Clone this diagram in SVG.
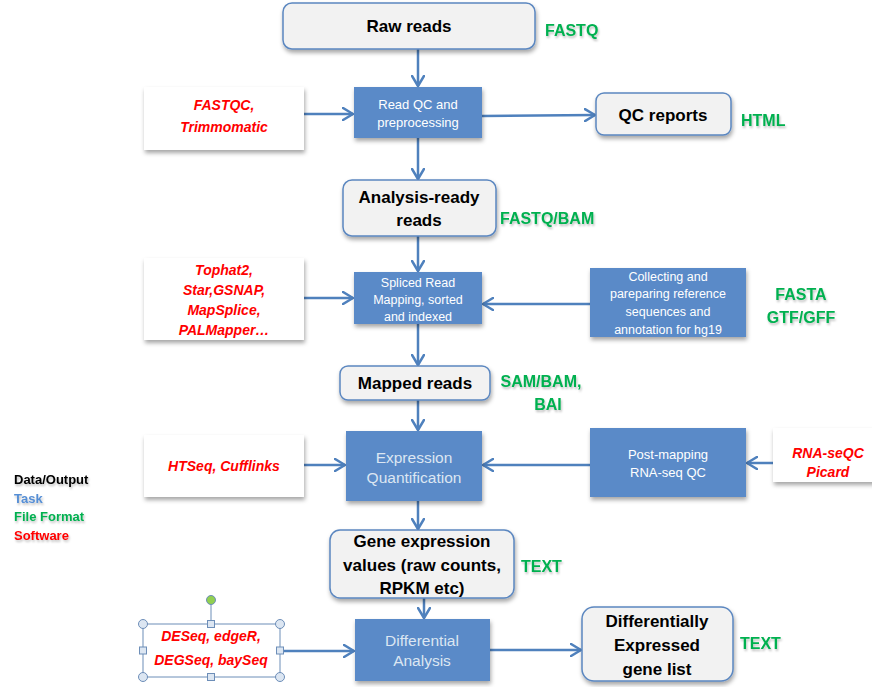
<svg xmlns="http://www.w3.org/2000/svg" width="872" height="687" viewBox="0 0 872 687">
<defs>
<filter id="sh" x="-10%" y="-10%" width="130%" height="140%"><feDropShadow dx="1" dy="3" stdDeviation="2" flood-color="#000" flood-opacity="0.35"/></filter>
<filter id="tsh" x="-10%" y="-20%" width="130%" height="160%"><feDropShadow dx="1" dy="2" stdDeviation="1" flood-color="#000" flood-opacity="0.25"/></filter>
<marker id="ar" viewBox="0 0 12 14" refX="11" refY="7" markerWidth="12" markerHeight="14" markerUnits="userSpaceOnUse" orient="auto">
<path d="M1,1 L11,7 L1,13" fill="none" stroke="#4F81BD" stroke-width="2.5" stroke-linejoin="round" stroke-linecap="round"/>
</marker>
</defs>
<style>
.data{fill:#F2F2F2;stroke:#5B87C0;stroke-width:1.5}
.task{fill:#5A8AC8}
.tool{fill:#FFFFFF}
.dt{font-family:"Liberation Sans",Arial,sans-serif;font-weight:bold;font-size:17px;fill:#000;text-anchor:middle}
.tt{font-family:"Liberation Sans",Arial,sans-serif;font-size:13px;fill:#FFFFFF;text-anchor:middle}
.tl{font-family:"Liberation Sans",Arial,sans-serif;font-size:15.5px;fill:#DCE6F2;text-anchor:middle}
.sw{font-family:"Liberation Sans",Arial,sans-serif;font-weight:bold;font-style:italic;font-size:14px;fill:#FF0000;text-anchor:middle}
.ff{font-family:"Liberation Sans",Arial,sans-serif;font-weight:bold;font-size:16px;fill:#00B050}
.lg{font-family:"Liberation Sans",Arial,sans-serif;font-weight:bold;font-size:13px}
.cn{stroke:#4F81BD;stroke-width:2.5;fill:none;marker-end:url(#ar)}
.h{fill:#DCE6F2;stroke:#6D8EB8;stroke-width:1}
</style>

<g id="connectors">
<line class="cn" x1="418" y1="49" x2="418" y2="86"/>
<line class="cn" x1="304" y1="114" x2="353" y2="114"/>
<line class="cn" x1="482" y1="116" x2="595" y2="115"/>
<line class="cn" x1="418" y1="138" x2="418" y2="179"/>
<line class="cn" x1="418" y1="236" x2="418" y2="271"/>
<line class="cn" x1="304" y1="298" x2="353" y2="298"/>
<line class="cn" x1="590" y1="304" x2="483" y2="304"/>
<line class="cn" x1="418" y1="324" x2="418" y2="365"/>
<line class="cn" x1="418" y1="400" x2="418" y2="430"/>
<line class="cn" x1="304" y1="465" x2="345" y2="465"/>
<line class="cn" x1="590" y1="465" x2="483" y2="465"/>
<line class="cn" x1="773" y1="463" x2="747" y2="463"/>
<line class="cn" x1="418" y1="501" x2="418" y2="529"/>
<line class="cn" x1="424" y1="598" x2="424" y2="618"/>
<line class="cn" x1="280" y1="651" x2="354" y2="651"/>
<line class="cn" x1="490" y1="650" x2="581" y2="650"/>
</g>

<g id="raw-reads">
<rect class="data" x="283" y="3" width="252" height="46" rx="9" filter="url(#sh)"/>
<text class="dt" x="409" y="32">Raw reads</text>
</g>
<g id="fmt-fastq"><text class="ff" x="545" y="36" filter="url(#tsh)">FASTQ</text></g>

<g id="read-qc">
<rect class="task" x="354" y="87" width="128" height="51" filter="url(#sh)"/>
<text class="tt" x="418" y="109">Read QC and</text>
<text class="tt" x="418" y="127">preprocessing</text>
</g>

<g id="fastqc">
<rect class="tool" x="144" y="87" width="160" height="63" filter="url(#sh)"/>
<text class="sw" x="224" y="110">FASTQC,</text>
<text class="sw" x="224" y="132">Trimmomatic</text>
</g>

<g id="qc-reports">
<rect class="data" x="596" y="93" width="135" height="42" rx="8" filter="url(#sh)"/>
<text class="dt" x="663" y="121">QC reports</text>
</g>
<g id="fmt-html"><text class="ff" x="741" y="126" filter="url(#tsh)">HTML</text></g>

<g id="analysis-ready">
<rect class="data" x="343" y="180" width="153" height="56" rx="9" filter="url(#sh)"/>
<text class="dt" x="419" y="203">Analysis-ready</text>
<text class="dt" x="419" y="226">reads</text>
</g>
<g id="fmt-fastqbam"><text class="ff" x="500" y="224" filter="url(#tsh)">FASTQ/BAM</text></g>

<g id="mappers">
<rect class="tool" x="144" y="258" width="160" height="82" filter="url(#sh)"/>
<text class="sw" x="224" y="275">Tophat2,</text>
<text class="sw" x="224" y="295">Star,GSNAP,</text>
<text class="sw" x="224" y="315">MapSplice,</text>
<text class="sw" x="224" y="335">PALMapper…</text>
</g>

<g id="spliced-mapping">
<rect class="task" x="354" y="272" width="128" height="52" filter="url(#sh)"/>
<text class="tt" x="418" y="287" style="font-size:12.5px">Spliced Read</text>
<text class="tt" x="418" y="304" style="font-size:12.5px">Mapping, sorted</text>
<text class="tt" x="418" y="321" style="font-size:12.5px">and indexed</text>
</g>

<g id="reference">
<rect class="task" x="590" y="268" width="156" height="69" filter="url(#sh)"/>
<text class="tt" x="668" y="281" style="font-size:12.5px">Collecting and</text>
<text class="tt" x="668" y="298" style="font-size:12.5px">pareparing  reference</text>
<text class="tt" x="668" y="316" style="font-size:12.5px">sequences and</text>
<text class="tt" x="668" y="334" style="font-size:12.5px">annotation for hg19</text>
</g>
<g id="fmt-fasta">
<text class="ff" x="801" y="300" text-anchor="middle" filter="url(#tsh)">FASTA</text>
<text class="ff" x="801" y="323" text-anchor="middle" filter="url(#tsh)">GTF/GFF</text>
</g>

<g id="mapped-reads">
<rect class="data" x="340" y="366" width="150" height="34" rx="8" filter="url(#sh)"/>
<text class="dt" x="415" y="389">Mapped reads</text>
</g>
<g id="fmt-sambam">
<text class="ff" x="541" y="387" text-anchor="middle" filter="url(#tsh)">SAM/BAM,</text>
<text class="ff" x="548" y="410" text-anchor="middle" filter="url(#tsh)">BAI</text>
</g>

<g id="htseq">
<rect class="tool" x="144" y="435" width="160" height="62" filter="url(#sh)"/>
<text class="sw" x="224" y="471">HTSeq, Cufflinks</text>
</g>

<g id="expression-quant">
<rect class="task" x="346" y="431" width="136" height="70" filter="url(#sh)"/>
<text class="tl" x="414" y="463">Expression</text>
<text class="tl" x="414" y="483">Quantification</text>
</g>

<g id="post-mapping-qc">
<rect class="task" x="590" y="428" width="156" height="69" filter="url(#sh)"/>
<text class="tt" x="668" y="459">Post-mapping</text>
<text class="tt" x="668" y="477">RNA-seq QC</text>
</g>

<g id="rnaseqc">
<rect class="tool" x="773" y="428" width="104" height="54" filter="url(#sh)"/>
<text class="sw" x="828" y="458">RNA-seQC</text>
<text class="sw" x="828" y="477">Picard</text>
</g>

<g id="legend">
<text class="lg" x="14" y="484" fill="#000000" filter="url(#tsh)">Data/Output</text>
<text class="lg" x="14" y="503" fill="#558ED5" filter="url(#tsh)">Task</text>
<text class="lg" x="14" y="521" fill="#00B050" filter="url(#tsh)">File Format</text>
<text class="lg" x="14" y="540" fill="#FF0000" filter="url(#tsh)">Software</text>
</g>

<g id="gene-expression">
<rect class="data" x="330" y="530" width="184" height="68" rx="10" filter="url(#sh)"/>
<text class="dt" x="422" y="547">Gene expression</text>
<text class="dt" x="422" y="571">values (raw counts,</text>
<text class="dt" x="422" y="594">RPKM etc)</text>
</g>
<g id="fmt-text1"><text class="ff" x="521" y="572" filter="url(#tsh)">TEXT</text></g>

<g id="de-tools">
<line x1="211" y1="600" x2="211" y2="624" stroke="#6D8EB8" stroke-width="1"/>
<rect class="tool" x="143" y="624" width="137" height="53" stroke="#6D8EB8" stroke-width="1"/>
<text class="sw" x="211" y="641">DESeq, edgeR,</text>
<text class="sw" x="211" y="665">DEGSeq, baySeq</text>
<circle cx="211" cy="600" r="4.5" fill="#92D050" stroke="#6D8EB8" stroke-width="1"/>
<circle class="h" cx="143" cy="624" r="4.5"/>
<circle class="h" cx="280" cy="624" r="4.5"/>
<circle class="h" cx="143" cy="677" r="4.5"/>
<circle class="h" cx="280" cy="677" r="4.5"/>
<rect class="h" x="207.5" y="620.5" width="7" height="7"/>
<rect class="h" x="207.5" y="673.5" width="7" height="7"/>
<rect class="h" x="139.5" y="647" width="7" height="7"/>
<rect class="h" x="276.5" y="647" width="7" height="7"/>
</g>

<g id="differential-analysis">
<rect class="task" x="355" y="619" width="135" height="62" filter="url(#sh)"/>
<text class="tl" x="422" y="646">Differential</text>
<text class="tl" x="422" y="666">Analysis</text>
</g>

<g id="de-gene-list">
<rect class="data" x="582" y="607" width="151" height="74" rx="12" filter="url(#sh)"/>
<text class="dt" x="657" y="627">Differentially</text>
<text class="dt" x="657" y="651">Expressed</text>
<text class="dt" x="657" y="675">gene list</text>
</g>
<g id="fmt-text2"><text class="ff" x="740" y="649" filter="url(#tsh)">TEXT</text></g>
</svg>
